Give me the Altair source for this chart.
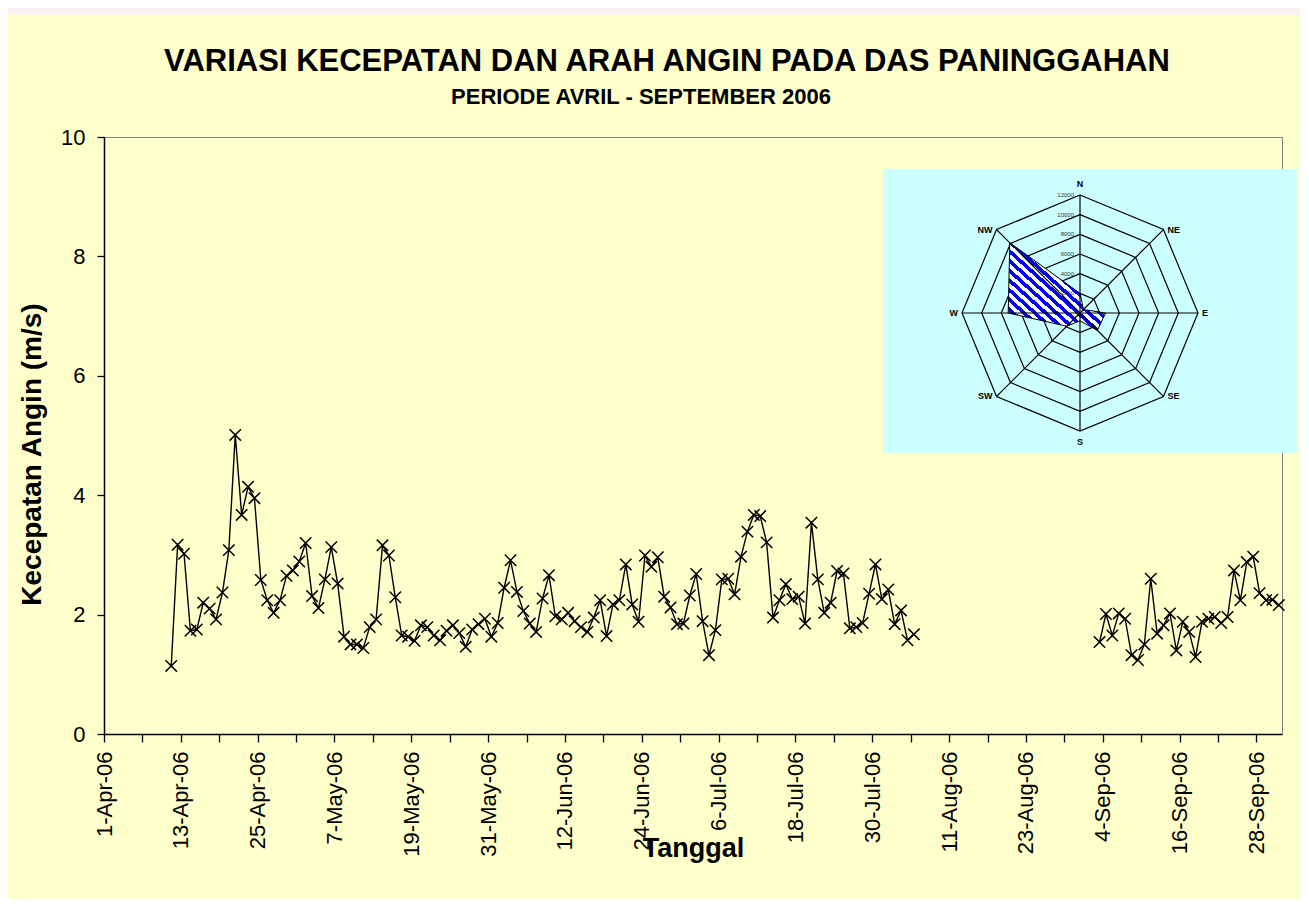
import json
import altair as alt
import pandas as pd

FONT = "Liberation Sans"

title_text = "VARIASI KECEPATAN DAN ARAH ANGIN PADA DAS PANINGGAHAN"
subtitle_text = "PERIODE AVRIL - SEPTEMBER  2006"
x_title = "Tanggal"
y_title = "Kecepatan Angin (m/s)"

axis_start = "2006-04-01"

# daily mean wind speed (m/s), 11-Apr-06 .. 5-Aug-06
start_a = "2006-04-11"
speed_a = [
    1.14, 3.17, 3.02, 1.73, 1.75, 2.20, 2.10, 1.92, 2.37, 3.08,
    5.01, 3.67, 4.14, 3.95, 2.58, 2.24, 2.03, 2.24, 2.65, 2.74,
    2.89, 3.20, 2.31, 2.11, 2.59, 3.13, 2.52, 1.63, 1.50,
    1.50, 1.44, 1.79, 1.92, 3.16, 2.99, 2.29, 1.65, 1.63, 1.56,
    1.82, 1.79, 1.65, 1.57, 1.73, 1.82, 1.69, 1.46, 1.75, 1.84,
    1.93, 1.63, 1.86, 2.45, 2.91, 2.38, 2.06, 1.85, 1.71, 2.27, 2.66,
    1.97, 1.92, 2.03, 1.89, 1.79, 1.71, 1.95, 2.24, 1.64, 2.17,
    2.24, 2.84, 2.17, 1.88, 2.99, 2.80, 2.96, 2.30, 2.12, 1.84,
    1.85, 2.32, 2.68, 1.89, 1.32, 1.74, 2.59, 2.60, 2.34, 2.97,
    3.39, 3.67, 3.65, 3.21, 1.95, 2.24, 2.51, 2.26, 2.30, 1.85,
    3.54, 2.59, 2.03, 2.20, 2.73, 2.69, 1.77, 1.79, 1.86, 2.35,
    2.84, 2.26, 2.42, 1.84, 2.07, 1.57, 1.67,
]
# 3-Sep-06 .. 1-Oct-06
start_b = "2006-09-03"
speed_b = [
    1.54, 2.01, 1.65, 2.02, 1.93, 1.32, 1.24, 1.50, 2.60, 1.68,
    1.82, 2.02, 1.40, 1.88, 1.71, 1.29, 1.88, 1.93, 1.96, 1.86,
    1.96, 2.74, 2.24, 2.88, 2.97, 2.36, 2.24, 2.25, 2.16,
]

tick_labels = ["1-Apr-06", "13-Apr-06", "25-Apr-06", "7-May-06", "19-May-06",
               "31-May-06", "12-Jun-06", "24-Jun-06", "6-Jul-06", "18-Jul-06",
               "30-Jul-06", "11-Aug-06", "23-Aug-06", "4-Sep-06", "16-Sep-06",
               "28-Sep-06"]
y_ticks = [0, 2, 4, 6, 8, 10]

# wind rose (inset)
directions = ["N", "NE", "E", "SE", "S", "SW", "W", "NW"]
dir_freq = [2000, 500, 2600, 2500, 800, 1900, 7300, 10100]
ring_levels = [2000, 4000, 6000, 8000, 10000, 12000]

# ---------------------------------------------------------------- data tables
def segment(start, vals, name):
    d = pd.date_range(start, periods=len(vals), freq="D")
    return pd.DataFrame({"date": d, "speed": vals, "seg": name})

df = pd.concat([segment(start_a, speed_a, "a"), segment(start_b, speed_b, "b")],
               ignore_index=True)
df["day"] = (df["date"] - pd.Timestamp(axis_start)).dt.days + 0.5
df = df.drop(columns="date")

rings_df = pd.DataFrame([{"level": lv, "k": k} for lv in ring_levels for k in range(9)])
spokes_df = pd.DataFrame({"k": list(range(8)), "r": [ring_levels[-1]] * 8})
poly_df = pd.DataFrame({"k": list(range(9)),
                        "v": dir_freq + [dir_freq[0]]})
ringlab_df = pd.DataFrame({"level": ring_levels, "lab": [str(v) for v in ring_levels]})
dirlab_df = pd.DataFrame({"k": list(range(8)), "dir": directions,
                          "r": [ring_levels[-1]] * 8})
titles_df = pd.DataFrame({"t": [title_text], "s": [subtitle_text]})

W, H = 1178, 597

# ---------------------------------------------------------------- main chart
label_expr = ("datum.value % 12 == 0 ? " + json.dumps(tick_labels) +
              "[datum.value / 12] : ''")

x_axis = alt.Axis(values=list(range(0, 181, 6)), labelExpr=label_expr, labelAngle=270,
                  labelFont=FONT, labelFontSize=22, labelColor="black",
                  labelPadding=9, labelFlush=False, labelOverlap=False,
                  tickSize=8, tickColor="black", tickWidth=1.3,
                  domainColor="black", domainWidth=1.5, grid=False,
                  title=x_title, titleFont=FONT, titleFontSize=27,
                  titleFontWeight="bold", titleColor="black",
                  titleX=W / 2, titleY=114, titleAlign="center",
                  titleBaseline="middle")
y_axis = alt.Axis(values=y_ticks, labelFont=FONT, labelFontSize=22, labelColor="black",
                  labelPadding=12, tickSize=7, tickColor="black", tickWidth=1.3,
                  domainColor="black", domainWidth=1.5, grid=False,
                  title=y_title, titleFont=FONT, titleFontSize=28,
                  titleFontWeight="bold", titleColor="black", titleAngle=270,
                  titleX=-72, titleY=317, titleAlign="center",
                  titleBaseline="middle")

x_mark = "M-1,-1L1,1M-1,1L1,-1"
main = alt.Chart(df).mark_line(
    color="black", strokeWidth=1.4,
    point=alt.OverlayMarkDef(shape=x_mark, size=130, filled=False,
                             stroke="black", strokeWidth=1.5, fillOpacity=0),
).encode(
    x=alt.X("day:Q", scale=alt.Scale(domain=[0, 184], nice=False, zero=False), axis=x_axis),
    y=alt.Y("speed:Q", scale=alt.Scale(domain=[0, 10], nice=False), axis=y_axis),
    detail="seg:N",
)

one = pd.DataFrame({"a": [0]})
pink_strip = alt.Chart(one).mark_rect(color="#FCEFF2").encode(
    x=alt.value(-96), x2=alt.value(W + 18), y=alt.value(-129), y2=alt.value(-122))

title_mark = alt.Chart(titles_df).mark_text(
    font=FONT, fontSize=31, fontWeight="bold", color="black",
    align="center", baseline="alphabetic",
).encode(x=alt.value(563), y=alt.value(-66), text="t:N")
subtitle_mark = alt.Chart(titles_df).mark_text(
    font=FONT, fontSize=22, fontWeight="bold", color="black",
    align="center", baseline="alphabetic",
).encode(x=alt.value(537), y=alt.value(-33), text="s:N")

# ---------------------------------------------------------------- wind rose
RX = alt.Scale(domain=[-12000, 12000], range=[858, 1094], nice=False, zero=False)
RY = alt.Scale(domain=[-12000, 12000], range=[294, 58], nice=False, zero=False)

box = alt.Chart(one).mark_rect(color="#CCFFFF").encode(
    x=alt.value(779), x2=alt.value(1193), y=alt.value(32), y2=alt.value(316))

rings = alt.Chart(rings_df).transform_calculate(
    px="datum.level * sin(datum.k * PI / 4)",
    py="datum.level * cos(datum.k * PI / 4)",
).mark_line(color="black", strokeWidth=1.2).encode(
    x=alt.X("px:Q", scale=RX, axis=None),
    y=alt.Y("py:Q", scale=RY, axis=None),
    detail="level:N", order="k:Q")

spokes = alt.Chart(spokes_df).transform_calculate(
    cx="0", cy="0",
    px="datum.r * sin(datum.k * PI / 4)",
    py="datum.r * cos(datum.k * PI / 4)",
).mark_rule(color="black", strokeWidth=1.2).encode(
    x=alt.X("cx:Q", scale=RX, axis=None), x2="px:Q",
    y=alt.Y("cy:Q", scale=RY, axis=None), y2="py:Q")

n_stripes = 18
stops = []
for i in range(n_stripes):
    a = i / n_stripes
    b = (i + 0.5) / n_stripes
    stops += [alt.GradientStop(color="#FFFFFF", offset=a),
              alt.GradientStop(color="#0000FF", offset=a),
              alt.GradientStop(color="#0000FF", offset=b),
              alt.GradientStop(color="#FFFFFF", offset=b)]
stops.append(alt.GradientStop(color="#FFFFFF", offset=1))
stripe_fill = alt.LinearGradient(gradient="linear", stops=stops, x1=0, y1=1, x2=1, y2=0)

polygon = alt.Chart(poly_df).transform_calculate(
    px="datum.v * sin(datum.k * PI / 4)",
    py="datum.v * cos(datum.k * PI / 4)",
).mark_line(color="black", strokeWidth=1.0, fill=stripe_fill).encode(
    x=alt.X("px:Q", scale=RX, axis=None),
    y=alt.Y("py:Q", scale=RY, axis=None),
    order="k:Q")

ring_labels = alt.Chart(ringlab_df).transform_calculate(cx="0").mark_text(
    align="right", baseline="middle", dx=-6, font=FONT, fontSize=6, color="#333333"
).encode(x=alt.X("cx:Q", scale=RX, axis=None),
         y=alt.Y("level:Q", scale=RY, axis=None), text="lab:N")

def dir_text(ks, **kw):
    return alt.Chart(dirlab_df).transform_filter(
        alt.FieldOneOfPredicate(field="k", oneOf=ks)
    ).transform_calculate(
        px="datum.r * sin(datum.k * PI / 4)",
        py="datum.r * cos(datum.k * PI / 4)",
    ).mark_text(font=FONT, fontSize=9, fontWeight="bold", color="black", **kw).encode(
        x=alt.X("px:Q", scale=RX, axis=None),
        y=alt.Y("py:Q", scale=RY, axis=None), text="dir:N")

lab_right = dir_text([1, 2, 3], align="left", baseline="middle", dx=4)
lab_left = dir_text([5, 6, 7], align="right", baseline="middle", dx=-4)
lab_top = dir_text([0], align="center", baseline="bottom", dy=-6)
lab_bot = dir_text([4], align="center", baseline="top", dy=7)

rose = alt.layer(rings, polygon, spokes, ring_labels, lab_right, lab_left, lab_top, lab_bot)

chart = alt.layer(pink_strip, title_mark, subtitle_mark, main, box, rose).resolve_scale(
    x="independent", y="independent"
).properties(
    width=W, height=H,
    autosize=alt.AutoSizeParams(type="none"),
    padding={"left": 96, "top": 129, "right": 18, "bottom": 165},
    background="#FFFFCC",
).configure_view(stroke="#808080", strokeWidth=1)

chart.save("out.html", embed_options={"renderer": "svg", "actions": False})
